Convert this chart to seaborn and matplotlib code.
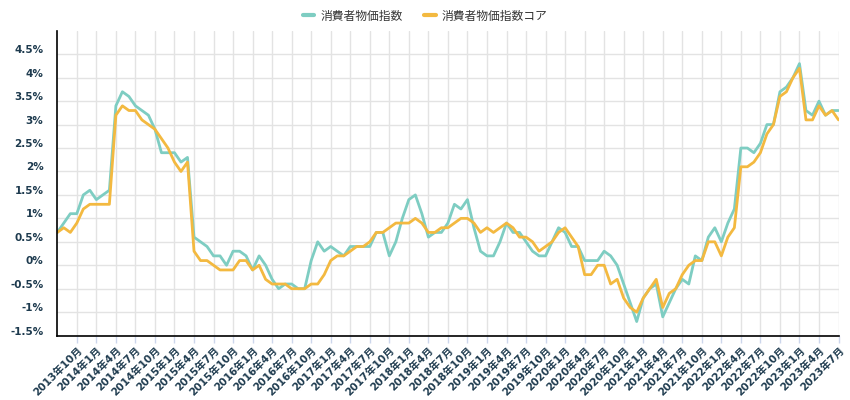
import matplotlib
matplotlib.use("Agg")
import matplotlib.pyplot as plt
import matplotlib.transforms as mtransforms
import numpy as np
import pandas as pd
import seaborn as sns

# monthly, 2013年7月 .. 2023年7月 (YoY %)
start_year, start_month = 2013, 7
cpi = [0.7, 0.9, 1.1, 1.1, 1.5, 1.6, 1.4, 1.5, 1.6, 3.4, 3.7, 3.6,
       3.4, 3.3, 3.2, 2.9, 2.4, 2.4, 2.4, 2.2, 2.3, 0.6, 0.5, 0.4,
       0.2, 0.2, 0.0, 0.3, 0.3, 0.2, -0.1, 0.2, 0.0, -0.3, -0.5, -0.4,
       -0.4, -0.5, -0.5, 0.1, 0.5, 0.3, 0.4, 0.3, 0.2, 0.4, 0.4, 0.4,
       0.4, 0.7, 0.7, 0.2, 0.5, 1.0, 1.4, 1.5, 1.1, 0.6, 0.7, 0.7,
       0.9, 1.3, 1.2, 1.4, 0.8, 0.3, 0.2, 0.2, 0.5, 0.9, 0.7, 0.7,
       0.5, 0.3, 0.2, 0.2, 0.5, 0.8, 0.7, 0.4, 0.4, 0.1, 0.1, 0.1,
       0.3, 0.2, 0.0, -0.4, -0.8, -1.2, -0.7, -0.5, -0.4, -1.1, -0.8, -0.5,
       -0.3, -0.4, 0.2, 0.1, 0.6, 0.8, 0.5, 0.9, 1.2, 2.5, 2.5, 2.4,
       2.6, 3.0, 3.0, 3.7, 3.8, 4.0, 4.3, 3.3, 3.2, 3.5, 3.2, 3.3,
       3.3]
core = [0.7, 0.8, 0.7, 0.9, 1.2, 1.3, 1.3, 1.3, 1.3, 3.2, 3.4, 3.3,
        3.3, 3.1, 3.0, 2.9, 2.7, 2.5, 2.2, 2.0, 2.2, 0.3, 0.1, 0.1,
        0.0, -0.1, -0.1, -0.1, 0.1, 0.1, -0.1, 0.0, -0.3, -0.4, -0.4, -0.4,
        -0.5, -0.5, -0.5, -0.4, -0.4, -0.2, 0.1, 0.2, 0.2, 0.3, 0.4, 0.4,
        0.5, 0.7, 0.7, 0.8, 0.9, 0.9, 0.9, 1.0, 0.9, 0.7, 0.7, 0.8,
        0.8, 0.9, 1.0, 1.0, 0.9, 0.7, 0.8, 0.7, 0.8, 0.9, 0.8, 0.6,
        0.6, 0.5, 0.3, 0.4, 0.5, 0.7, 0.8, 0.6, 0.4, -0.2, -0.2, 0.0,
        0.0, -0.4, -0.3, -0.7, -0.9, -1.0, -0.7, -0.5, -0.3, -0.9, -0.6, -0.5,
        -0.2, 0.0, 0.1, 0.1, 0.5, 0.5, 0.2, 0.6, 0.8, 2.1, 2.1, 2.2,
        2.4, 2.8, 3.0, 3.6, 3.7, 4.0, 4.2, 3.1, 3.1, 3.4, 3.2, 3.3,
        3.1]
series_names = ["消費者物価指数", "消費者物価指数コア"]
colors = ["#7ecdc2", "#f3b940"]

months = []
y, m = start_year, start_month
for _ in range(len(cpi)):
    months.append(f"{y}年{m}月")
    m += 1
    if m > 12:
        m = 1
        y += 1

df = pd.DataFrame({
    "idx": list(range(len(cpi))) * 2,
    "value": cpi + core,
    "series": [series_names[0]] * len(cpi) + [series_names[1]] * len(core),
})

sns.set_theme(style="whitegrid")
plt.rcParams["font.family"] = ["DejaVu Sans", "Noto Sans CJK JP"]

fig = plt.figure(figsize=(8.5, 4), dpi=100)
ax = fig.add_axes([0.0674, 0.161, 0.9191, 0.762])

sns.lineplot(data=df, x="idx", y="value", hue="series", palette=colors,
             linewidth=2, ax=ax, legend=True)

ax.set_xlim(0, len(cpi) - 1)
ax.set_ylim(-1.5, 5.0)
ax.set_xlabel("")
ax.set_ylabel("")

# y axis
yt = np.arange(-1.5, 4.51, 0.5)
ax.set_yticks(yt)
ax.set_yticklabels([("%g%%" % round(v, 1)) for v in yt], fontsize=7.5,
                   fontweight="bold", color="#1d3a4e")
ax.tick_params(axis="y", length=0, pad=10)
offset = mtransforms.ScaledTranslation(0, 0.05, fig.dpi_scale_trans)
for lab in ax.get_yticklabels():
    lab.set_transform(lab.get_transform() + offset)

# x axis: every 3rd month
xt = list(range(3, len(cpi), 3))
ax.set_xticks(xt)
ax.set_xticklabels([months[i] for i in xt], rotation=45, ha="right",
                   rotation_mode="anchor", fontsize=7.5, fontweight="bold",
                   color="#1d3a4e")
ax.tick_params(axis="x", length=5, width=1, color="#ccd6eb", pad=2, bottom=True)

ax.grid(True, color="#e3e3e3", linewidth=1)
for side in ["top", "right"]:
    ax.spines[side].set_visible(False)
for side in ["left", "bottom"]:
    ax.spines[side].set_visible(True)
    ax.spines[side].set_color("#000000")
    ax.spines[side].set_linewidth(1.2)
ax.set_facecolor("white")

handles, labels = ax.get_legend_handles_labels()
for h in handles:
    h.set_linewidth(3)
ax.legend(handles, labels, loc="center", bbox_to_anchor=(0.5, 0.96),
          bbox_transform=fig.transFigure, ncol=2, frameon=False,
          fontsize=8.5, handlelength=1.0, columnspacing=1.8,
          handletextpad=0.5, labelcolor="#333333")

fig.savefig("out.png", dpi=100, facecolor="white")
